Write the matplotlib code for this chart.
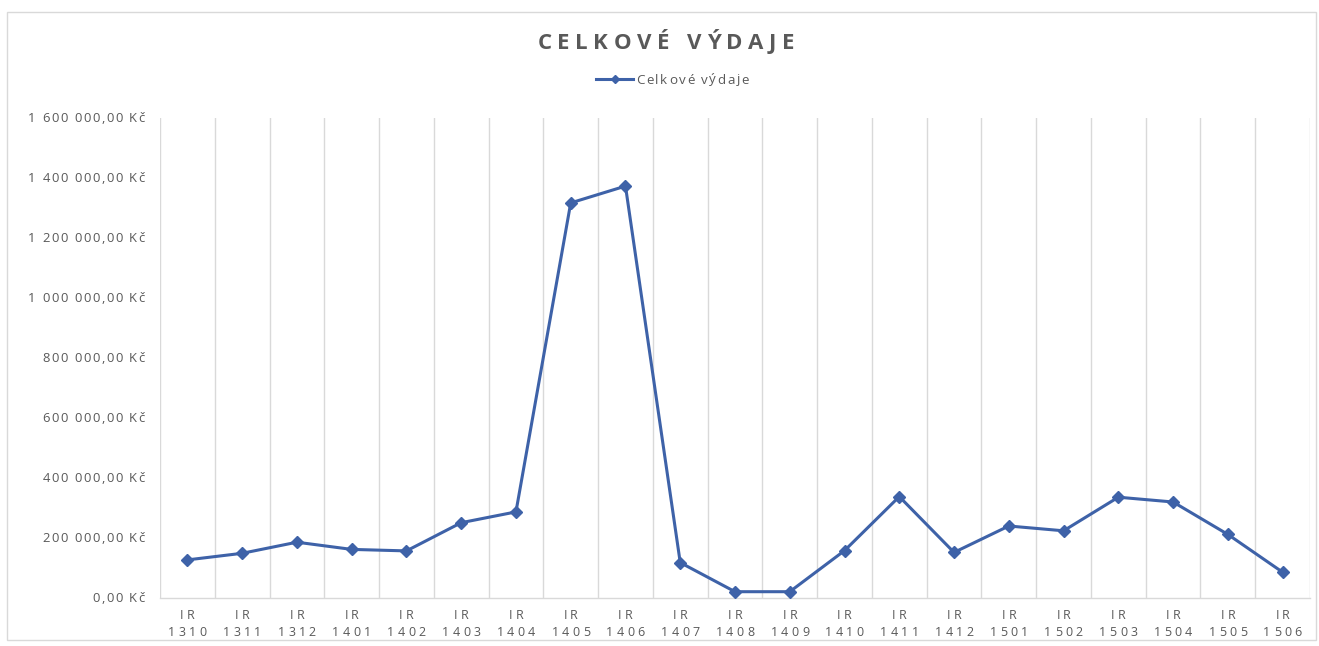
import matplotlib
matplotlib.use("Agg")
import matplotlib.pyplot as plt
from matplotlib.ticker import FixedLocator
from matplotlib.patches import Rectangle
from matplotlib.lines import Line2D
from matplotlib.transforms import IdentityTransform
from matplotlib.font_manager import FontProperties

categories = ["IR\n1310", "IR\n1311", "IR\n1312", "IR\n1401", "IR\n1402", "IR\n1403", "IR\n1404",
              "IR\n1405", "IR\n1406", "IR\n1407", "IR\n1408", "IR\n1409", "IR\n1410", "IR\n1411",
              "IR\n1412", "IR\n1501", "IR\n1502", "IR\n1503", "IR\n1504", "IR\n1505", "IR\n1506"]
values = [127000, 149000, 186000, 162000, 157000, 251000, 287000,
          1317000, 1373000, 118000, 21000, 21000, 158000, 338000,
          152000, 240000, 224000, 336000, 320000, 212000, 86000]
y_ticks = [0, 200000, 400000, 600000, 800000, 1000000, 1200000, 1400000, 1600000]
series_name = "Celkové výdaje"
title = "CELKOVÉ VÝDAJE"

plt.rcParams['font.family'] = ['Open Sans', 'DejaVu Sans']
gray = '#595959'
line_color = '#3e62a8'
grid_color = '#d9d9d9'
W, H = 1319, 646

fig = plt.figure(figsize=(W / 100, H / 100), dpi=100)
renderer = fig.canvas.get_renderer()
fig.patches.append(Rectangle((7 / W, 1 - 640 / H), 1309 / W, 628 / H, transform=fig.transFigure,
                             fill=False, edgecolor=grid_color, linewidth=1))
ax = fig.add_axes([160 / W, 1 - 598 / H, 1150 / W, 480 / H])


def char_w(c, fp):
    w1 = renderer.get_text_width_height_descent("|" + c + "|", fp, ismath=False)[0]
    w0 = renderer.get_text_width_height_descent("||", fp, ismath=False)[0]
    return w1 - w0


def spaced_text(s, x, y_top, size, spacing, ha='center', weight='normal', color=gray):
    """Draw letter-spaced text; x in px from left, y_top = baseline px from top."""
    fp = FontProperties(family=['Open Sans', 'DejaVu Sans'], size=size, weight=weight)
    widths = [char_w(c, fp) for c in s]
    total = sum(widths) + spacing * (len(s) - 1)
    if ha == 'center':
        x0 = x - total / 2
    elif ha == 'right':
        x0 = x - total
    else:
        x0 = x
    yb = H - y_top
    cx = x0
    for c, w in zip(s, widths):
        if c != ' ':
            fig.text(cx, yb, c, transform=IdentityTransform(), ha='left', va='baseline',
                     fontproperties=fp, color=color)
        cx += w + spacing


x = list(range(len(categories)))
ax.plot(x, values, color=line_color, linewidth=2.2, marker='D', markersize=6.5,
        markerfacecolor=line_color, markeredgecolor=line_color, label=series_name, zorder=3)

ax.set_xlim(-0.5, len(categories) - 0.5)
ax.set_ylim(0, 1600000)
ax.set_xticks(x)
ax.set_xticklabels([])
ax.yaxis.set_major_locator(FixedLocator(y_ticks))
ax.set_yticklabels([])
ax.tick_params(length=0)

for b in [i - 0.5 for i in range(len(categories) + 1)]:
    ax.axvline(b, color=grid_color, linewidth=1, zorder=1)
for s in ['top', 'right', 'left']:
    ax.spines[s].set_visible(False)
ax.spines['bottom'].set_color(grid_color)
ax.spines['bottom'].set_linewidth(1)


def fmt(v):
    return f"{v:,.2f}".replace(",", " ").replace(".", ",") + " Kč"


# y tick labels
for v in y_ticks:
    py = ax.transData.transform((0, v))[1]
    spaced_text(fmt(v), 145, (H - py) + 4.5, 9.4, 1.6, ha='right')

# x tick labels
for i, lab in enumerate(categories):
    px = ax.transData.transform((i, 0))[0]
    l1, l2 = lab.split("\n")
    spaced_text(l1, px, 619, 9.0, 3.3)
    spaced_text(l2, px, 636.5, 9.0, 3.3)

# title
spaced_text(title, 666, 49, 16, 5.6, weight='bold')

# legend
fig.add_artist(Line2D([596 / W, 633 / W], [1 - 79 / H, 1 - 79 / H], transform=fig.transFigure,
                      color=line_color, linewidth=2.2, marker=None))
fig.add_artist(Line2D([614.5 / W], [1 - 79 / H], transform=fig.transFigure, color=line_color,
                      marker='D', markersize=4.5, linestyle='none'))
spaced_text(series_name, 636, 83.5, 9.6, 1.6, ha='left')

fig.savefig("out.png", dpi=100)
